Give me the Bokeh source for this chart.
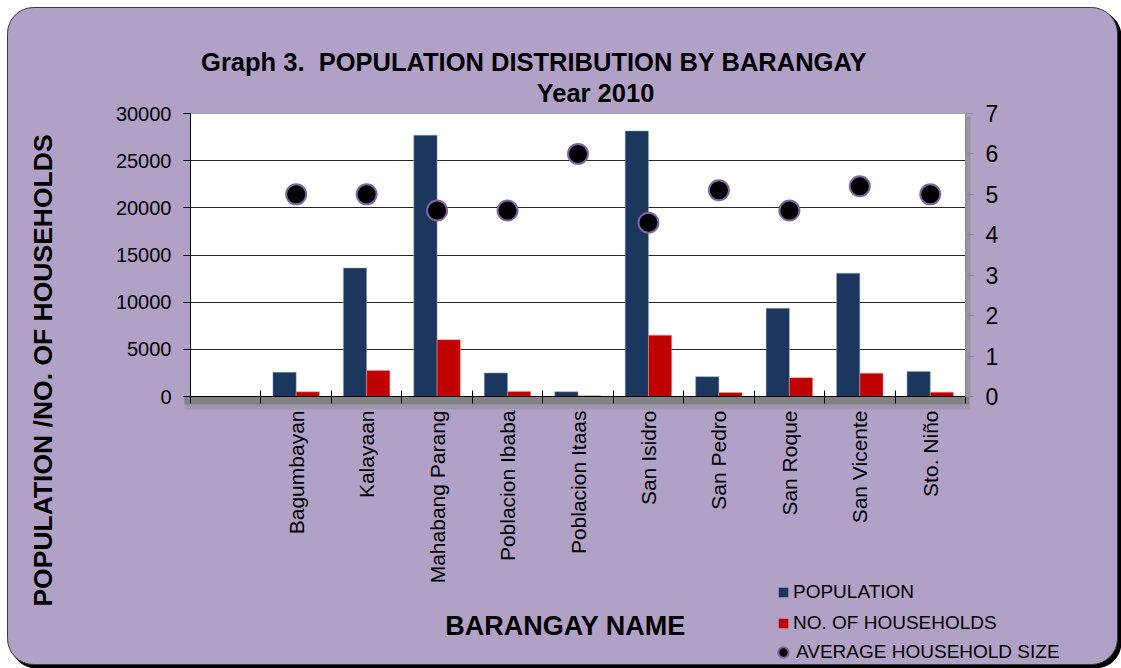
import numpy as np
from bokeh.plotting import figure
from bokeh.layouts import column
from bokeh.models import (Range1d, LinearAxis, FixedTicker, BoxAnnotation, Label,
                          Legend, LegendItem, ColumnDataSource)
from bokeh.embed import file_html
from bokeh.resources import INLINE

# ---------------- data ----------------
barangays = ["Bagumbayan", "Kalayaan", "Mahabang Parang", "Poblacion Ibaba",
             "Poblacion Itaas", "San Isidro", "San Pedro", "San Roque",
             "San Vicente", "Sto. Niño"]
population = [2580, 13620, 27700, 2500, 500, 28150, 2100, 9350, 13060, 2650]
households = [500, 2760, 6020, 530, 80, 6500, 420, 2000, 2470, 460]
avg_household_size = [5.0, 5.0, 4.6, 4.6, 6.0, 4.3, 5.1, 4.6, 5.2, 5.0]
left_ticks = [0, 5000, 10000, 15000, 20000, 25000, 30000]
right_ticks = [0, 1, 2, 3, 4, 5, 6, 7]
series_names = ["POPULATION", "NO. OF HOUSEHOLDS", "AVERAGE HOUSEHOLD SIZE"]

title_1 = "Graph 3.\u00a0 POPULATION DISTRIBUTION BY BARANGAY"
title_2 = "Year 2010"
y_title = "POPULATION /NO. OF HOUSEHOLDS"
x_title = "BARANGAY NAME"

# ---------------- style ----------------
FONT = "Liberation Sans"
BG = "#B2A1C7"
NAVY = "#1B375E"
RED = "#C00000"
PURPLE = "#8064A2"

W, H = 1121, 668
FL, FR, FT, FB = 190, 965, 113, 396   # plot area edges in page pixels

# ================= background figure (page-pixel coordinates) =================
bg = figure(width=W, height=H, x_range=Range1d(0, W), y_range=Range1d(H, 0),
            min_border=0, toolbar_location=None, output_backend="svg",
            x_axis_location=None, y_axis_location=None,
            border_fill_color="white", background_fill_color="white",
            outline_line_color=None, frame_align=False)
bg.grid.visible = False

bg.add_layout(BoxAnnotation(left=10, right=W, top=10, bottom=H, border_radius=26,
                            fill_color="black", fill_alpha=1, line_color=None))
bg.add_layout(BoxAnnotation(left=7, right=1117, top=7, bottom=664, border_radius=26,
                            fill_color=BG, fill_alpha=1, line_color="#3A3A3A",
                            line_alpha=1, line_width=1))
# 3-D floor / wall shadow of the plot area
bg.add_layout(BoxAnnotation(left=FL - 6, right=FR + 4, top=FB, bottom=FB + 8,
                            fill_color="#7F7F7F", fill_alpha=0.95, line_color=None))
bg.add_layout(BoxAnnotation(left=FL - 6, right=FR + 5, top=FB + 8, bottom=FB + 13,
                            fill_color="#7F7F7F", fill_alpha=0.35, line_color=None))
bg.add_layout(BoxAnnotation(left=FR, right=FR + 5, top=FT + 3, bottom=FB,
                            fill_color="#7F7F7F", fill_alpha=0.5, line_color=None))

def lab(x, y, text, size, angle=0.0):
    return Label(x=x, y=y, text=text, text_font=FONT, text_font_size=size,
                 text_font_style="bold", text_color="black",
                 text_align="center", text_baseline="middle", angle=angle)

bg.add_layout(lab(533.5, 61, title_1, "25.5px"))
bg.add_layout(lab(595, 92.5, title_2, "25.5px"))
bg.add_layout(lab(565, 625, x_title, "27px"))
bg.add_layout(lab(42, 370, y_title, "26.5px", angle=np.pi / 2))

# legend swatches (renderers with a single NaN point carrying the series styles)
nan_src = ColumnDataSource(dict(x=[np.nan], y=[np.nan]))
g_pop = bg.vbar(x="x", top="y", width=1, source=nan_src, fill_color=NAVY, line_color=None)
g_hh = bg.vbar(x="x", top="y", width=1, source=nan_src, fill_color=RED, line_color=None)
g_avg = bg.scatter(x="x", y="y", source=nan_src, marker="circle", size=10,
                   fill_color="black", line_color=PURPLE, line_width=2)

leg_kw = dict(padding=0, margin=0, label_text_font=FONT, label_text_font_size="19px",
              label_text_color="black", background_fill_alpha=0, border_line_color=None)
leg1 = Legend(items=[LegendItem(label=series_names[0], renderers=[g_pop]),
                     LegendItem(label=series_names[1], renderers=[g_hh])],
              location=(777, H - 634), glyph_width=12, glyph_height=12,
              label_standoff=4, spacing=9, **leg_kw)
leg2 = Legend(items=[LegendItem(label=series_names[2], renderers=[g_avg])],
              location=(770, H - 665), glyph_width=26, glyph_height=26,
              label_standoff=0, **leg_kw)
bg.add_layout(leg1)
bg.add_layout(leg2)

# ================= chart figure (transparent, laid over the background) =================
n = len(barangays)
centers = np.arange(n) + 0.5
bw = 0.33
src = ColumnDataSource(dict(
    xp=centers - bw / 2, xh=centers + bw / 2, xc=centers,
    pop=population, hh=households, avg=avg_household_size))

p = figure(width=W, height=H, x_range=Range1d(-1, n), y_range=Range1d(0, 30000),
           output_backend="svg", toolbar_location=None,
           min_border_left=FL, min_border_right=W - FR,
           min_border_top=FT, min_border_bottom=H - FB,
           border_fill_color=None, border_fill_alpha=0,
           background_fill_color="white", frame_align=False,
           outline_line_color="#A6A6A6", outline_line_width=1)
p.margin = (-H, 0, 0, 0)

xa = p.xaxis[0]
xa.ticker = FixedTicker(ticks=list(centers), minor_ticks=list(range(-1, n + 1)))
xa.major_label_overrides = {float(c): name for c, name in zip(centers, barangays)}
xa.major_tick_line_color = None
xa.major_tick_out = 0
xa.major_tick_in = 0
xa.minor_tick_line_color = "black"
xa.minor_tick_in = 6
xa.minor_tick_out = 7
xa.major_label_orientation = np.pi / 2
xa.major_label_standoff = 7
xa.major_label_text_font = FONT
xa.major_label_text_font_size = "21px"
xa.major_label_text_color = "black"
xa.axis_line_color = "black"

ya = p.yaxis[0]
ya.ticker = FixedTicker(ticks=left_ticks)
ya.major_tick_out = 7
ya.major_tick_in = 0
ya.minor_tick_line_color = None
ya.major_label_standoff = 12
ya.major_label_text_font = FONT
ya.major_label_text_font_size = "20px"
ya.major_label_text_color = "black"
ya.axis_line_color = "black"
ya.major_tick_line_color = "black"

p.extra_y_ranges = {"avg": Range1d(0, 7)}
ra = LinearAxis(y_range_name="avg", ticker=FixedTicker(ticks=right_ticks))
ra.axis_line_color = "#8C8C8C"
ra.major_tick_line_color = "#8C8C8C"
ra.major_tick_out = 8
ra.major_tick_in = 0
ra.minor_tick_line_color = None
ra.major_label_standoff = 12
ra.major_label_text_font = FONT
ra.major_label_text_font_size = "23px"
ra.major_label_text_color = "black"
p.add_layout(ra, "right")

p.xgrid.visible = False
p.ygrid[0].ticker = FixedTicker(ticks=left_ticks[1:-1])
p.ygrid[0].grid_line_color = "#262626"
p.ygrid[0].grid_line_width = 1

p.vbar(x="xp", width=bw, top="pop", bottom=0, source=src,
       fill_color=NAVY, line_color="#8EA2BD", line_width=0.5)
p.vbar(x="xh", width=bw, top="hh", bottom=0, source=src,
       fill_color=RED, line_color="#E8A0A0", line_width=0.5)
p.scatter(x="xc", y="avg", source=src, y_range_name="avg", size=20,
          marker="circle", fill_color="black", line_color=PURPLE, line_width=2)

layout = column(bg, p)
open("out.html", "w").write(file_html(layout, INLINE))
